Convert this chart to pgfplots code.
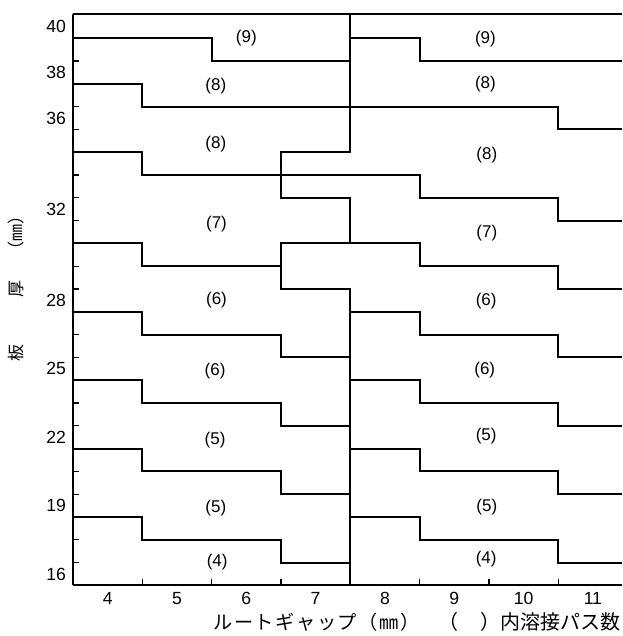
\documentclass[border=0pt]{standalone}
\usepackage{fontspec}
\setmainfont{Liberation Sans}
\newfontfamily\jp{Noto Sans CJK JP}
\newfontfamily\jpls[LetterSpace=8]{Noto Sans CJK JP}
\usepackage{pgfplots}
\pgfplotsset{compat=1.18}
\tikzset{ln/.style={black, line width=1pt, solid, mark=none}}
\begin{document}
\begin{tikzpicture}
\begin{axis}[
  name=ax, scale only axis, width=274.5pt, height=285.5pt,
  xmin=3.5, xmax=11.42, ymin=15.52, ymax=40.56,
  axis x line=bottom, axis y line=left,
  axis line style={-, line width=1pt, black},
  xtick={4,...,11}, ytick={16,19,22,25,28,32,36,38,40},
  minor xtick={4.5,5.5,6.5,8.5,9.5,10.5},
  minor ytick={16.5,17.5,...,39.5},
  major tick length=0pt, minor tick length=3pt,
  tick align=inside,
  every minor tick/.style={line width=0.6pt, black},
  ticklabel style={font=\fontsize{8.8}{10}\selectfont, black},
  /pgf/number format/assume math mode=true,
  clip=false,
]
% top frame
\draw[line width=1pt] (axis cs:3.5,40.56) -- (axis cs:11.42,40.56);
% divider between gap groups
\addplot[ln] coordinates {(7.5,40.56)(7.5,34.5)(6.5,34.5)(6.5,32.5)(7.5,32.5)(7.5,30.5)(6.5,30.5)(6.5,28.5)(7.5,28.5)(7.5,15.52)};
% upper boundaries
\addplot[ln] coordinates {(3.5,39.5)(5.5,39.5)(5.5,38.5)(7.5,38.5)};
\addplot[ln] coordinates {(7.5,39.5)(8.5,39.5)(8.5,38.5)(11.42,38.5)};
\addplot[ln] coordinates {(3.5,37.5)(4.5,37.5)(4.5,36.5)(10.5,36.5)(10.5,35.5)(11.42,35.5)};
\addplot[ln] coordinates {(3.5,34.5)(4.5,34.5)(4.5,33.5)(8.5,33.5)(8.5,32.5)(10.5,32.5)(10.5,31.5)(11.42,31.5)};
\addplot[ln] coordinates {(3.5,30.5)(4.5,30.5)(4.5,29.5)(6.5,29.5)};
\addplot[ln] coordinates {(6.5,30.5)(8.5,30.5)(8.5,29.5)(10.5,29.5)(10.5,28.5)(11.42,28.5)};
% lower boundaries, left group
\addplot[ln] coordinates {(3.5,27.5)(4.5,27.5)(4.5,26.5)(6.5,26.5)(6.5,25.5)(7.5,25.5)};
\addplot[ln] coordinates {(3.5,24.5)(4.5,24.5)(4.5,23.5)(6.5,23.5)(6.5,22.5)(7.5,22.5)};
\addplot[ln] coordinates {(3.5,21.5)(4.5,21.5)(4.5,20.5)(6.5,20.5)(6.5,19.5)(7.5,19.5)};
\addplot[ln] coordinates {(3.5,18.5)(4.5,18.5)(4.5,17.5)(6.5,17.5)(6.5,16.5)(7.5,16.5)};
% lower boundaries, right group
\addplot[ln] coordinates {(7.5,27.5)(8.5,27.5)(8.5,26.5)(10.5,26.5)(10.5,25.5)(11.42,25.5)};
\addplot[ln] coordinates {(7.5,24.5)(8.5,24.5)(8.5,23.5)(10.5,23.5)(10.5,22.5)(11.42,22.5)};
\addplot[ln] coordinates {(7.5,21.5)(8.5,21.5)(8.5,20.5)(10.5,20.5)(10.5,19.5)(11.42,19.5)};
\addplot[ln] coordinates {(7.5,18.5)(8.5,18.5)(8.5,17.5)(10.5,17.5)(10.5,16.5)(11.42,16.5)};
% pass counts
\begin{scope}[every node/.style={font=\fontsize{8.5}{10}\selectfont}]
\node at (axis cs:6.0,39.5) {(9)};
\node at (axis cs:5.56,37.4) {(8)};
\node at (axis cs:5.56,34.86) {(8)};
\node at (axis cs:5.57,31.35) {(7)};
\node at (axis cs:5.57,28.0) {(6)};
\node at (axis cs:5.55,24.92) {(6)};
\node at (axis cs:5.55,21.88) {(5)};
\node at (axis cs:5.56,18.88) {(5)};
\node at (axis cs:5.58,16.54) {(4)};
\node at (axis cs:9.45,39.47) {(9)};
\node at (axis cs:9.45,37.5) {(8)};
\node at (axis cs:9.47,34.36) {(8)};
\node at (axis cs:9.47,30.94) {(7)};
\node at (axis cs:9.46,27.99) {(6)};
\node at (axis cs:9.44,24.95) {(6)};
\node at (axis cs:9.46,22.05) {(5)};
\node at (axis cs:9.47,18.95) {(5)};
\node at (axis cs:9.46,16.64) {(4)};
\end{scope}
\end{axis}
% axis titles
\node[font=\jpls\fontsize{9.6}{10}\selectfont, anchor=west, inner sep=0pt] at ([xshift=70pt,yshift=-18.5pt]ax.south west) {ルートギャップ（㎜）};
\node[font=\jp\fontsize{10}{11}\selectfont, anchor=east] at ([xshift=3pt,yshift=-18.5pt]ax.south east) {（\hspace{1.1em}）内溶接パス数};
\node[rotate=90, font=\jp\fontsize{8.5}{10}\selectfont] at ([xshift=-28.5pt,yshift=7.5pt]ax.west) {板\hspace{2.8em}厚\hspace{1.3em}（㎜）};
\pgfresetboundingbox
\path ([xshift=-36.5pt,yshift=-25.5pt]ax.south west) rectangle ([yshift=7pt]ax.north east);
\end{tikzpicture}
\end{document}
